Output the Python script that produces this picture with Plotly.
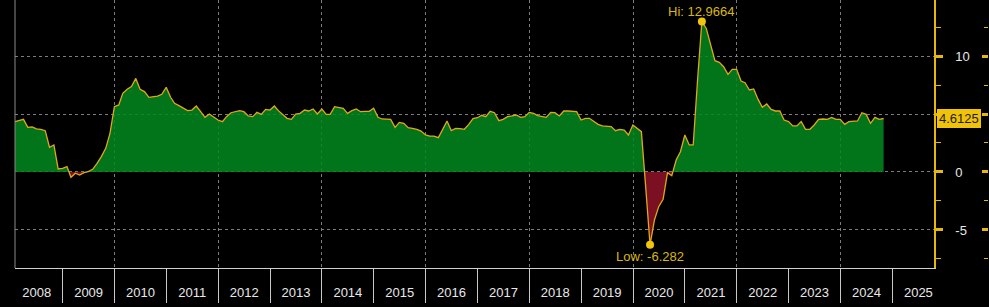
import numpy as np
import pandas as pd
import plotly.graph_objects as go

# ---- data (monthly, month-end, from Jan 2008) ----
v2008 = [4.34, 4.43, 4.54, 3.85, 3.88, 3.71, 3.68, 3.56, 2.13, 2.33, 0.26, 0.32]
v2009 = [0.46, -0.46, -0.11, -0.26, -0.06, 0.03, 0.23, 0.75, 1.32, 2.04, 3.33, 5.63]
v2010 = [5.78, 6.78, 7.13, 7.36, 8.07, 7.13, 6.93, 6.44, 6.49, 6.55, 6.70, 7.30]
v2011 = [6.44, 5.92, 5.72, 5.49, 5.29, 5.34, 5.69, 5.20, 4.71, 5.00, 4.77, 4.48]
v2012 = [4.34, 4.77, 5.11, 5.17, 5.29, 5.20, 4.83, 4.77, 5.14, 4.97, 5.40, 5.34]
v2013 = [5.69, 5.29, 4.91, 4.63, 4.54, 5.00, 5.06, 5.34, 5.26, 5.43, 5.00, 5.43]
v2014 = [4.97, 4.97, 5.63, 5.55, 5.49, 5.06, 5.29, 5.43, 5.20, 5.23, 5.23, 5.49]
v2015 = [4.71, 4.57, 4.57, 4.54, 3.85, 4.28, 4.20, 3.82, 3.76, 3.68, 3.53, 3.19]
v2016 = [3.10, 3.10, 2.96, 3.68, 4.40, 3.56, 3.76, 3.74, 3.68, 4.11, 4.60, 4.68]
v2017 = [4.89, 4.77, 5.23, 5.11, 4.43, 4.54, 4.77, 4.83, 4.91, 4.71, 4.77, 5.14]
v2018 = [5.06, 4.86, 4.77, 4.71, 5.14, 5.11, 4.83, 5.26, 5.26, 5.26, 5.20, 4.48]
v2019 = [4.63, 4.63, 4.34, 4.11, 3.97, 3.97, 3.91, 3.56, 3.68, 3.62, 3.19, 4.05]
v2020 = [3.76, 3.48, -1.40, -6.282, -4.14, -2.99, -2.36, -0.06, -0.32, 1.03, 1.75, 3.19]
v2021 = [2.33, 2.33, 8.00, 12.9664, 12.38, 11.00, 9.60, 9.45, 9.08, 8.42, 8.85, 8.85]
v2022 = [7.84, 7.70, 7.07, 7.16, 6.26, 5.57, 5.86, 5.40, 5.26, 5.26, 4.48, 4.34]
v2023 = [3.97, 3.97, 4.34, 3.68, 3.68, 4.05, 4.54, 4.57, 4.54, 4.71, 4.54, 4.54]
v2024 = [4.11, 4.34, 4.40, 4.40, 5.11, 4.97, 4.20, 4.71, 4.54, 4.6125]

values = (v2008 + v2009 + v2010 + v2011 + v2012 + v2013 + v2014 + v2015 + v2016
          + v2017 + v2018 + v2019 + v2020 + v2021 + v2022 + v2023 + v2024)
first_month = "2008-01-01"
dates = pd.date_range(first_month, periods=len(values), freq="MS") + pd.offsets.MonthEnd(0)

x_range = ["2008-01-31", "2025-10-21"]
y_range = [-8.28, 14.83]
y_major = [-5, 0, 5, 10, 15]
y_major_text = ["-5", "0", "", "10", ""]

YELLOW = "#e6b80e"
LINE = "#e0a81a"
GREEN = "rgba(2,136,32,0.86)"
RED = "rgba(140,18,40,0.88)"
GRID = "#7c7c7c"

W, H = 989, 307
ML, MR, MT, MB = 15, 1, 0, 39
PLOT_RIGHT = 934
X_DOMAIN_END = (PLOT_RIGHT - ML) / (W - ML - MR)

# ---- split into positive / negative fill polygons with exact zero crossings ----
t = dates.values.astype("datetime64[ns]").astype(np.int64).astype(float)
v = np.array(values, dtype=float)
tt, vv = [t[0]], [v[0]]
for i in range(len(v) - 1):
    if (v[i] > 0 and v[i + 1] < 0) or (v[i] < 0 and v[i + 1] > 0):
        tc = t[i] + (t[i + 1] - t[i]) * (v[i] / (v[i] - v[i + 1]))
        tt.append(tc)
        vv.append(0.0)
    tt.append(t[i + 1])
    vv.append(v[i + 1])
tt = pd.to_datetime(np.array(tt).astype(np.int64))
vv = np.array(vv)
pos = np.maximum(vv, 0)
neg = np.minimum(vv, 0)

fig = go.Figure()
fig.add_trace(go.Scatter(x=tt, y=pos, mode="lines", line=dict(width=0),
                         fill="tozeroy", fillcolor=GREEN, hoverinfo="skip"))
fig.add_trace(go.Scatter(x=tt, y=neg, mode="lines", line=dict(width=0),
                         fill="tozeroy", fillcolor=RED, hoverinfo="skip"))
fig.add_trace(go.Scatter(x=dates, y=values, mode="lines", xaxis="x2",
                         line=dict(color=LINE, width=1.3)))

i_hi = int(np.argmax(v))
i_lo = int(np.argmin(v))
fig.add_trace(go.Scatter(x=[dates[i_hi], dates[i_lo]], y=[v[i_hi], v[i_lo]],
                         mode="markers", xaxis="x2", cliponaxis=False,
                         marker=dict(color="#f2c40c", size=8)))
# invisible trace on a thin right-edge subplot that carries the decorative ticks
fig.add_trace(go.Scatter(x=[0], y=[v[-1]], mode="markers", xaxis="x3", yaxis="y3",
                         marker=dict(opacity=0), hoverinfo="skip"))

fig.add_annotation(x=dates[i_hi], y=v[i_hi], xref="x2", yref="y",
                   text=f"Hi: {values[i_hi]}", showarrow=False, yshift=10,
                   font=dict(color="#d9b80c", size=13, family="Liberation Sans"))
fig.add_annotation(x=dates[i_lo], y=v[i_lo], xref="x2", yref="y",
                   text=f"Low: {values[i_lo]}", showarrow=False, yshift=-12,
                   font=dict(color="#d9b80c", size=13, family="Liberation Sans"))
fig.add_annotation(x=X_DOMAIN_END, y=values[-1], xref="paper", yref="y", xanchor="left",
                   xshift=3, text=f"{values[-1]}", showarrow=False,
                   bgcolor="#f0c20a", bordercolor="#f0c20a", borderpad=1,
                   font=dict(color="#1e1e1e", size=13, family="Liberation Sans"))

# left frame line
fig.add_shape(type="line", xref="paper", yref="paper", x0=0, x1=0, y0=0, y1=1,
              line=dict(color="#8a8a8a", width=1))

fig.update_layout(
    width=W, height=H,
    margin=dict(l=ML, r=MR, t=MT, b=MB),
    paper_bgcolor="black", plot_bgcolor="black",
    showlegend=False,
    font=dict(family="Liberation Sans", size=13, color="#e8e8e8"),
    xaxis=dict(type="date", range=x_range, domain=[0, X_DOMAIN_END],
               tick0="2010-01-01", dtick="M24",
               showgrid=True, gridcolor=GRID, griddash="dot", gridwidth=1,
               ticks="", showticklabels=False, showline=True,
               linecolor="#d0d0d0", linewidth=1, zeroline=False),
    xaxis2=dict(type="date", overlaying="x", anchor="y", side="bottom",
                range=x_range, tick0="2008-01-01", dtick="M12",
                ticklabelmode="period", tickformat="%Y", ticks="outside",
                ticklen=34, tickcolor="#c8c8c8", tickwidth=1, showgrid=False,
                showline=False, zeroline=False, ticklabelstandoff=-22,
                tickfont=dict(size=13, color="#e8e8e8")),
    yaxis=dict(side="right", range=y_range, tickmode="array",
               tickvals=y_major, ticktext=y_major_text,
               showgrid=True, gridcolor=GRID, griddash="dot", gridwidth=1,
               zeroline=False, showline=True, linecolor=YELLOW, linewidth=1.5,
               ticks="outside", ticklen=7, tickwidth=3, tickcolor=YELLOW,
               ticklabelstandoff=10,
               minor=dict(tickmode="linear", tick0=0, dtick=2.5, ticks="outside",
                          ticklen=5, tickwidth=1, tickcolor=YELLOW, showgrid=False),
               tickfont=dict(size=13, color="#e8e8e8")),
    xaxis3=dict(domain=[0.992, 1.0], anchor="y3", range=[-1, 1], visible=False),
    yaxis3=dict(anchor="x3", side="right", range=y_range, tickmode="array",
                tickvals=y_major, showticklabels=False, showgrid=False,
                showline=False, zeroline=False,
                ticks="inside", ticklen=6, tickwidth=3, tickcolor=YELLOW,
                minor=dict(tickmode="linear", tick0=0, dtick=2.5, ticks="inside",
                           ticklen=4, tickwidth=1, tickcolor=YELLOW, showgrid=False)),
)

fig.write_html("out.html")
